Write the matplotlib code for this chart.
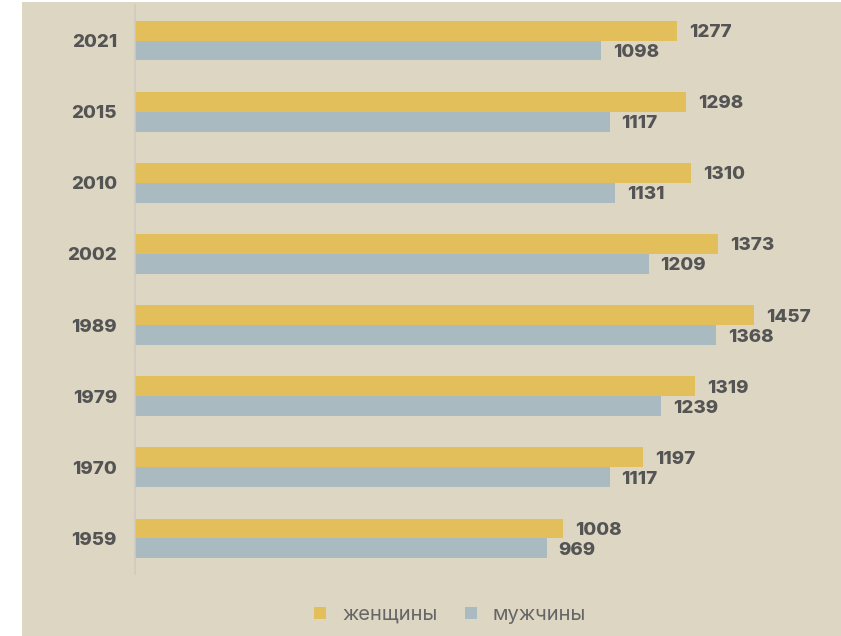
import matplotlib
matplotlib.use("Agg")
import matplotlib.pyplot as plt
from matplotlib.patches import Rectangle
from matplotlib.lines import Line2D

years = ["2021", "2015", "2010", "2002", "1989", "1979", "1970", "1959"]
women = [1277, 1298, 1310, 1373, 1457, 1319, 1197, 1008]
men = [1098, 1117, 1131, 1209, 1368, 1239, 1117, 969]
series_names = ["женщины", "мужчины"]

BG = "#ddd6c3"
YEL = "#e2bf5b"
BLU = "#a9bbc1"
TXT = "#545454"

plt.rcParams['font.family'] = ['Inter', 'DejaVu Sans']

fig = plt.figure(figsize=(8.41, 6.36), dpi=100)
fig.patch.set_facecolor("white")
fig.patches.append(Rectangle((22/841, 0), 1 - 22/841, 1 - 2/636, transform=fig.transFigure,
                             facecolor=BG, edgecolor="none", zorder=-10))

ax = fig.add_axes([135/841, 1 - 574/636, 1 - 135/841, (574 - 5)/636])
ax.set_facecolor("none")

h = 0.28
idx = list(range(len(years)))
ax.barh([i - h/2 for i in idx], women, height=h, color=YEL, label=series_names[0])
ax.barh([i + h/2 for i in idx], men, height=h, color=BLU, label=series_names[1])

W = "heavy"
for i in idx:
    ax.annotate(str(women[i]), (women[i], i - h/2), xytext=(12, -2), textcoords="offset pixels",
                va="center", ha="left", fontsize=13.5, fontweight=W, color=TXT)
    ax.annotate(str(men[i]), (men[i], i + h/2), xytext=(12, -2), textcoords="offset pixels",
                va="center", ha="left", fontsize=13.5, fontweight=W, color=TXT)

ax.set_xlim(0, 706/0.4248)
ax.set_ylim(len(years) - 0.5, -0.5)
ax.set_yticks(idx)
ax.set_yticklabels(years, fontsize=13.5, fontweight=W, color=TXT)
ax.tick_params(axis="y", length=0, pad=13)
ax.set_xticks([])
for s in ["top", "right", "bottom"]:
    ax.spines[s].set_visible(False)
ax.spines["left"].set_color("#cfcbbd")
ax.spines["left"].set_linewidth(1.2)

handles = [Line2D([], [], marker="s", linestyle="none", markersize=8, color=YEL, markeredgewidth=0),
           Line2D([], [], marker="s", linestyle="none", markersize=8, color=BLU, markeredgewidth=0)]
leg = fig.legend(handles, series_names, loc="center", bbox_to_anchor=(448/841, 1 - 615/636),
                 ncol=2, frameon=False, fontsize=14.5, handlelength=1.0, handletextpad=0.6,
                 columnspacing=1.15, labelcolor="#666666")

fig.savefig("out.png", dpi=100, facecolor=fig.get_facecolor())
